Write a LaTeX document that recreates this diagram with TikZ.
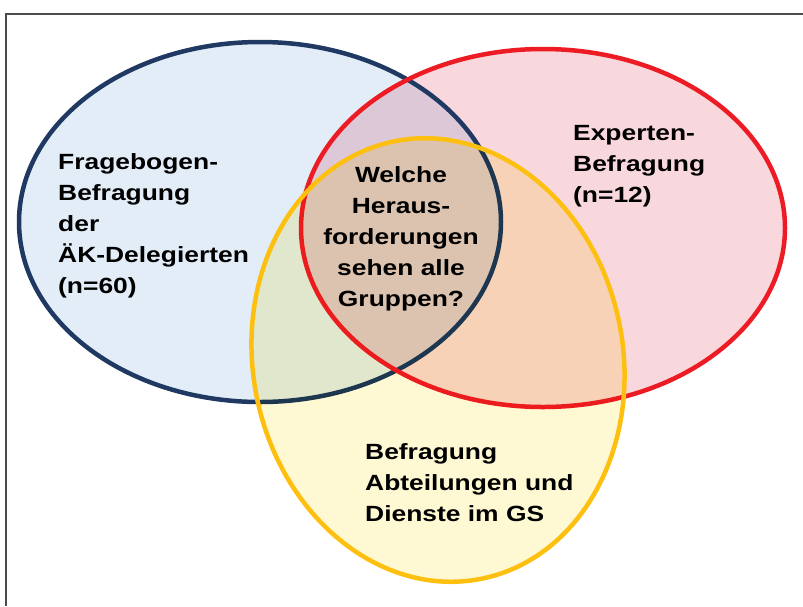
\documentclass[tikz,border=0pt]{standalone}
\usepackage{fontspec}
\newfontfamily\vennfont{Liberation Sans}[FakeStretch=1.2]
\usepackage{tikz}
\usetikzlibrary{positioning}
\definecolor{DelegLine}{RGB}{31,57,99}
\definecolor{DelegFill}{RGB}{226,237,248}
\definecolor{ExpLine}{RGB}{237,28,36}
\definecolor{ExpFill}{RGB}{249,216,221}
\definecolor{GSLine}{RGB}{254,192,16}
\definecolor{GSFill}{RGB}{254,249,210}
\definecolor{FrameGray}{RGB}{75,75,75}

\begin{document}
\begin{tikzpicture}[
    x=1pt, y=-1pt,
    grouptext/.style={inner sep=0pt,align=left,font=\vennfont\bfseries\fontsize{22}{31}\selectfont},
    ring/.style={line width=4.5pt},
    wash/.style={blend mode=multiply}
]
\useasboundingbox (0,0) rectangle (803,606);

% frame, only top and left edge are in view
\draw[FrameGray,line width=1.5pt] (803,14) -- (6,14) -- (6,606);

\coordinate (deleg) at (260,222);
\coordinate (exp) at (543,228);
\coordinate (gs) at (438,360);

% fills and outlines
\fill[DelegFill,wash] (deleg) ellipse [x radius=241, y radius=180];
\fill[ExpFill,wash] (exp) ellipse [x radius=242, y radius=179];
\draw[DelegLine,ring] (deleg) ellipse [x radius=241, y radius=180];
\draw[ExpLine,ring] (exp) ellipse [x radius=242, y radius=179];
\fill[GSFill,wash,rotate around={11:(gs)}] (gs) ellipse [x radius=185, y radius=223];
\draw[GSLine,ring,rotate around={11:(gs)}] (gs) ellipse [x radius=185, y radius=223];

% texts
\node[grouptext,anchor=north west] (delegtext) at (58,153)
  {Fragebogen-\\Befragung\\der\\ÄK-Delegierten\\(n=60)};
\node[grouptext,anchor=north west] (exptext) at (573,125)
  {Experten-\\Befragung\\(n=12)};
\node[grouptext,align=center,anchor=north] (question) at (401,166)
  {Welche\\Heraus-\\forderungen\\sehen alle\\Gruppen?};
\node[grouptext,anchor=north west] (gstext) at (365,443)
  {Befragung\\Abteilungen und\\Dienste im GS};
\end{tikzpicture}
\end{document}
